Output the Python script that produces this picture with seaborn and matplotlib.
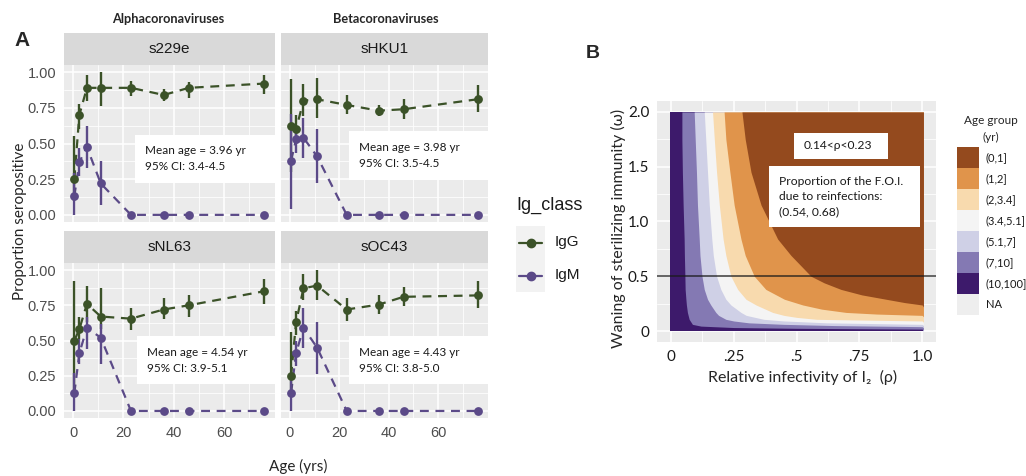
import numpy as np
import pandas as pd
import matplotlib
matplotlib.use('Agg')
import matplotlib.pyplot as plt
import seaborn as sns
from matplotlib.patches import Rectangle

# ---- panel A data ----
ages = [0.5, 2.5, 5.5, 11, 23, 36, 46, 76]
viruses = ['s229e', 'sHKU1', 'sNL63', 'sOC43']
ig_classes = ['IgG', 'IgM']

igg_prop = {'s229e': [0.25, 0.70, 0.89, 0.89, 0.89, 0.84, 0.89, 0.92],
            'sHKU1': [0.62, 0.60, 0.80, 0.81, 0.77, 0.73, 0.74, 0.81],
            'sNL63': [0.50, 0.58, 0.76, 0.67, 0.655, 0.72, 0.75, 0.85],
            'sOC43': [0.25, 0.63, 0.87, 0.89, 0.72, 0.755, 0.81, 0.82]}
igg_lo = {'s229e': [0.10, 0.60, 0.80, 0.76, 0.835, 0.80, 0.82, 0.85],
          'sHKU1': [0.30, 0.50, 0.69, 0.68, 0.71, 0.69, 0.67, 0.72],
          'sNL63': [0.15, 0.51, 0.63, 0.58, 0.576, 0.655, 0.67, 0.76],
          'sOC43': [0.10, 0.54, 0.79, 0.79, 0.64, 0.69, 0.745, 0.73]}
igg_hi = {'s229e': [0.55, 0.78, 0.98, 1.00, 0.94, 0.88, 0.93, 0.98],
          'sHKU1': [0.95, 0.70, 0.92, 0.96, 0.84, 0.77, 0.81, 0.91],
          'sNL63': [0.92, 0.67, 0.89, 0.87, 0.73, 0.80, 0.82, 0.94],
          'sOC43': [0.56, 0.71, 0.97, 1.00, 0.80, 0.82, 0.88, 0.92]}
igm_prop = {'s229e': [0.13, 0.37, 0.475, 0.22, 0, 0, 0, 0],
            'sHKU1': [0.38, 0.53, 0.54, 0.41, 0, 0, 0, 0],
            'sNL63': [0.125, 0.41, 0.59, 0.52, 0, 0, 0, 0],
            'sOC43': [0.13, 0.41, 0.59, 0.45, 0, 0, 0, 0]}
igm_lo = {'s229e': [0.0, 0.27, 0.33, 0.066, 0, 0, 0, 0],
          'sHKU1': [0.04, 0.435, 0.40, 0.22, 0, 0, 0, 0],
          'sNL63': [0.0, 0.33, 0.44, 0.33, 0, 0, 0, 0],
          'sOC43': [0.0, 0.32, 0.45, 0.26, 0, 0, 0, 0]}
igm_hi = {'s229e': [0.29, 0.47, 0.62, 0.38, 0, 0, 0, 0],
          'sHKU1': [0.71, 0.60, 0.68, 0.60, 0, 0, 0, 0],
          'sNL63': [0.27, 0.51, 0.67, 0.62, 0, 0, 0, 0],
          'sOC43': [0.27, 0.50, 0.73, 0.63, 0, 0, 0, 0]}

mean_labels = {'s229e': 'Mean age = 3.96 yr\n95% CI: 3.4-4.5',
               'sHKU1': 'Mean age = 3.98 yr\n95% CI: 3.5-4.5',
               'sNL63': 'Mean age = 4.54 yr\n95% CI: 3.9-5.1',
               'sOC43': 'Mean age = 4.43 yr\n95% CI: 3.8-5.0'}
# label box: (x left, y bottom, y top) in data units
label_box = {'s229e': (24.5, 0.224, 0.56), 'sHKU1': (24.0, 0.247, 0.59),
             'sNL63': (25.5, 0.19, 0.53), 'sOC43': (24.0, 0.19, 0.53)}

# ---- panel B data: boundaries between age groups (omega, rho) ----
age_groups = ['(0,1]', '(1,2]', '(2,3.4]', '(3.4,5.1]', '(5.1,7]', '(7,10]', '(10,100]', 'NA']
age_colors = ['#944A1E', '#E0944B', '#F8DAAE', '#F4F4F4', '#CFD0E6', '#8479B3', '#3D1A6B', '#EEEEEE']

b1_omega = [0.0, 0.018, 0.025, 0.032, 0.045, 0.061, 0.107, 0.17, 0.238, 0.29, 0.38, 0.50, 0.69, 0.84, 1.15, 1.45, 1.75, 2.0]
b1_rho = [1.1, 1.0, 0.5, 0.25, 0.12, 0.086, 0.073, 0.066, 0.062, 0.060, 0.057, 0.056, 0.054, 0.053, 0.049, 0.046, 0.044, 0.044]
b2_omega = [0.03, 0.04, 0.05, 0.061, 0.075, 0.092, 0.107, 0.143, 0.17, 0.238, 0.29, 0.38, 0.50, 0.69, 0.84, 1.15, 1.45, 1.75, 2.0]
b2_rho = [1.1, 1.0, 0.65, 0.45, 0.31, 0.25, 0.219, 0.19, 0.179, 0.159, 0.146, 0.133, 0.124, 0.116, 0.113, 0.106, 0.102, 0.097, 0.093]
b3_omega = [0.05, 0.061, 0.075, 0.092, 0.107, 0.143, 0.17, 0.238, 0.29, 0.38, 0.50, 0.69, 0.84, 1.15, 1.45, 1.75, 2.0]
b3_rho = [1.1, 1.0, 0.62, 0.45, 0.37, 0.30, 0.279, 0.239, 0.219, 0.199, 0.182, 0.169, 0.163, 0.153, 0.146, 0.139, 0.133]
b4_omega = [0.08, 0.092, 0.107, 0.125, 0.143, 0.17, 0.238, 0.29, 0.38, 0.50, 0.69, 0.84, 1.15, 1.45, 1.75, 2.0]
b4_rho = [1.1, 1.0, 0.58, 0.50, 0.45, 0.405, 0.339, 0.299, 0.266, 0.239, 0.219, 0.208, 0.193, 0.182, 0.173, 0.166]
b5_omega = [0.13, 0.143, 0.155, 0.17, 0.2, 0.238, 0.29, 0.38, 0.50, 0.69, 0.84, 1.15, 1.45, 1.75, 2.0]
b5_rho = [1.1, 1.0, 0.82, 0.697, 0.60, 0.525, 0.452, 0.378, 0.332, 0.296, 0.279, 0.252, 0.235, 0.219, 0.212]
b6_omega = [0.22, 0.238, 0.26, 0.29, 0.33, 0.38, 0.44, 0.50, 0.69, 0.84, 1.15, 1.45, 1.75, 2.0]
b6_rho = [1.1, 1.0, 0.93, 0.857, 0.76, 0.677, 0.61, 0.558, 0.478, 0.425, 0.359, 0.319, 0.296, 0.283]
boundaries = [(b1_omega, b1_rho), (b2_omega, b2_rho), (b3_omega, b3_rho),
              (b4_omega, b4_rho), (b5_omega, b5_rho), (b6_omega, b6_rho)]
omega_line = 0.5

# long table for seaborn
rows = []
for v in viruses:
    for i, a in enumerate(ages):
        rows.append([v, 'IgG', a, igg_prop[v][i], igg_lo[v][i], igg_hi[v][i]])
        rows.append([v, 'IgM', a, igm_prop[v][i], igm_lo[v][i], igm_hi[v][i]])
df = pd.DataFrame(rows, columns=['virus', 'Ig_class', 'age', 'prop', 'lo', 'hi'])

pal = {'IgG': '#3B5228', 'IgM': '#5B4A88'}

sns.set_theme(style='white')
plt.rcParams['font.family'] = ['Liberation Sans', 'DejaVu Sans']
CAL = ['Lato', 'DejaVu Sans']

W, H = 1026, 476
fig = plt.figure(figsize=(W / 100, H / 100), dpi=100)
fig.patch.set_facecolor('white')


def px(x0, y0, x1, y1):
    return [x0 / W, 1 - y1 / H, (x1 - x0) / W, (y1 - y0) / H]


panel_px = {'s229e': (64, 65, 275, 222), 'sHKU1': (281, 65, 488, 222),
            'sNL63': (64, 263, 275, 418), 'sOC43': (281, 263, 488, 418)}

for v in viruses:
    x0, y0, x1, y1 = panel_px[v]
    ax = fig.add_axes(px(x0, y0, x1, y1))
    ax.set_facecolor('#EBEBEB')
    for s in ax.spines.values():
        s.set_visible(False)
    ax.set_axisbelow(True)
    ax.set_xlim(-3.6, 80.2)
    ax.set_ylim(-0.05, 1.05)
    ax.set_xticks([0, 20, 40, 60])
    ax.set_xticks([10, 30, 50, 70], minor=True)
    ax.set_yticks([0, 0.25, 0.5, 0.75, 1.0])
    ax.set_yticks([0.125, 0.375, 0.625, 0.875], minor=True)
    ax.grid(which='major', color='white', lw=1.1)
    ax.grid(which='minor', color='white', lw=0.55)
    ax.tick_params(which='minor', length=0)
    ax.tick_params(which='major', length=3.5, width=0.8, color='#333333',
                   labelsize=10.5, labelcolor='#4D4D4D', pad=2)
    if v in ('s229e', 'sNL63'):
        ax.set_yticklabels(['0.00', '0.25', '0.50', '0.75', '1.00'])
    else:
        ax.tick_params(axis='y', length=0, labelleft=False)
    if v in ('sNL63', 'sOC43'):
        ax.set_xticklabels(['0', '20', '40', '60'])
    else:
        ax.tick_params(axis='x', length=0, labelbottom=False)

    sub = df[df.virus == v]
    bx, by0, by1 = label_box[v]
    ax.add_patch(Rectangle((bx, by0), 90, by1 - by0, facecolor='white',
                           edgecolor='none', zorder=1.5))
    ax.text(bx + 4, (by0 + by1) / 2, mean_labels[v], family=CAL, fontsize=8.5,
            color='#1A1A1A', va='center', ha='left', linespacing=1.55, zorder=1.6)

    sns.lineplot(data=sub, x='age', y='prop', hue='Ig_class', style='Ig_class',
                 dashes={'IgG': (4, 3), 'IgM': (4, 3)}, palette=pal,
                 estimator=None, lw=1.6, legend=False, ax=ax, zorder=2)
    for c in ig_classes:
        cs = sub[sub.Ig_class == c]
        ax.vlines(cs['age'], cs['lo'], cs['hi'], color=pal[c], lw=1.7, zorder=3)
        sns.scatterplot(data=cs, x='age', y='prop', color=pal[c], s=40,
                        linewidth=0, legend=False, ax=ax, zorder=4)
    ax.set_xlabel('')
    ax.set_ylabel('')

    sax = fig.add_axes(px(x0, y0 - 32, x1, y0))
    sax.set_facecolor('#D9D9D9')
    sax.set_xticks([])
    sax.set_yticks([])
    for s in sax.spines.values():
        s.set_visible(False)
    sax.text(0.5, 0.5, v, ha='center', va='center', fontsize=11, color='#1A1A1A',
             transform=sax.transAxes)

fig.text(168 / W, 1 - 19 / H, 'Alphacoronaviruses', family=CAL, weight='bold',
         fontsize=9.2, ha='center', va='center')
fig.text(386 / W, 1 - 19 / H, 'Betacoronaviruses', family=CAL, weight='bold',
         fontsize=9.2, ha='center', va='center')
fig.text(22 / W, 1 - 40 / H, 'A', fontsize=15, weight='bold', ha='center', va='center')
fig.text(20 / W, 1 - 221 / H, 'Proportion seropositive', family=CAL, fontsize=11,
         rotation=90, ha='center', va='center')
fig.text(298 / W, 1 - 466 / H, 'Age (yrs)', family=CAL, fontsize=11,
         ha='center', va='center')

# legend for Ig_class
fig.text(516 / W, 1 - 205 / H, 'Ig_class', fontsize=13, ha='left', va='center',
         color='#1A1A1A')
lax = fig.add_axes(px(516, 226, 545, 292))
lax.set_facecolor('#F2F2F2')
lax.set_xlim(0, 1)
lax.set_ylim(0, 2)
lax.set_xticks([])
lax.set_yticks([])
for s in lax.spines.values():
    s.set_visible(False)
for i, c in enumerate(ig_classes):
    yk = 1.5 - i
    lax.plot([0.12, 0.88], [yk, yk], color=pal[c], lw=1.6)
    lax.plot([0.5], [yk], 'o', color=pal[c], ms=6)
    fig.text(555 / W, 1 - (242.5 + 33 * i) / H, c, fontsize=11, ha='left',
             va='center', color='#1A1A1A')

# ---- panel B ----
axB = fig.add_axes(px(657, 101, 936, 342))
axB.set_facecolor('#EBEBEB')
for s in axB.spines.values():
    s.set_visible(False)
axB.set_axisbelow(True)
axB.set_xlim(-0.055, 1.055)
axB.set_ylim(-0.1, 2.1)
axB.set_xticks([0, 0.25, 0.5, 0.75, 1.0])
axB.set_xticks([0.125, 0.375, 0.625, 0.875], minor=True)
axB.set_yticks([0, 0.5, 1.0, 1.5, 2.0])
axB.set_yticks([0.25, 0.75, 1.25, 1.75], minor=True)
axB.set_xticklabels(['0', '.25', '.5', '.75', '1.0'], family=CAL)
axB.set_yticklabels(['0', '0.5', '1.0', '1.5', '2.0'], family=CAL)
axB.grid(which='major', color='white', lw=1.1)
axB.grid(which='minor', color='white', lw=0.55)
axB.tick_params(which='minor', length=0)
axB.tick_params(which='major', length=3.5, width=0.8, color='#333333',
                labelsize=11, labelcolor='#1A1A1A', pad=2)

rmin, rmax = -0.005, 1.005
axB.add_patch(Rectangle((rmin, 0), rmax - rmin, 2.0, facecolor=age_colors[6],
                        edgecolor='none', zorder=1))
for k, (om, rh) in enumerate(boundaries):
    rh = np.minimum(np.array(rh), rmax)
    axB.fill_betweenx(om, rh, rmax, color=age_colors[5 - k], lw=0, zorder=1 + k * 0.01)
axB.axhline(omega_line, color='#1A1A1A', lw=1.1, alpha=0.85, zorder=3)

axB.add_patch(Rectangle((0.49, 1.57), 0.375, 0.24, facecolor='white',
                        edgecolor='none', zorder=4))
axB.text(0.53, 1.69, '0.14<ρ<0.23', family=CAL, fontsize=8.7, va='center',
         ha='left', zorder=5, color='#1A1A1A')
axB.add_patch(Rectangle((0.39, 0.95), 0.60, 0.56, facecolor='white',
                        edgecolor='none', zorder=4))
axB.text(0.43, 1.23, 'Proportion of the F.O.I.\ndue to reinfections:\n(0.54, 0.68)',
         family=CAL, fontsize=8.7, va='center', ha='left', zorder=5,
         color='#1A1A1A', linespacing=1.45)

fig.text(593 / W, 1 - 53 / H, 'B', fontsize=14, weight='bold', ha='center', va='center')
fig.text(618 / W, 1 - 228 / H, 'Waning of sterilizing immunity (ω)', family=CAL,
         fontsize=11.5, rotation=90, ha='center', va='center')
fig.text(803 / W, 1 - 377 / H, 'Relative infectivity of I\u2082  (ρ)', family=CAL,
         fontsize=11.5, ha='center', va='center')

# legend for age group
fig.text(991 / W, 1 - 120 / H, 'Age group', family=CAL, fontsize=8.5,
         ha='center', va='center')
fig.text(991 / W, 1 - 137 / H, '(yr)', family=CAL, fontsize=8.5,
         ha='center', va='center')
gax = fig.add_axes(px(957, 147, 979, 315))
gax.barh(np.arange(len(age_groups)), 1, height=1.0, color=age_colors, lw=0)
gax.set_ylim(len(age_groups) - 0.5, -0.5)
gax.set_xlim(0, 1)
gax.axis('off')
for i, g in enumerate(age_groups):
    fig.text(986 / W, 1 - (147 + 21 * (i + 0.5)) / H, g, family=CAL, fontsize=8,
             ha='left', va='center', color='#1A1A1A')

fig.savefig('out.png', dpi=100)
